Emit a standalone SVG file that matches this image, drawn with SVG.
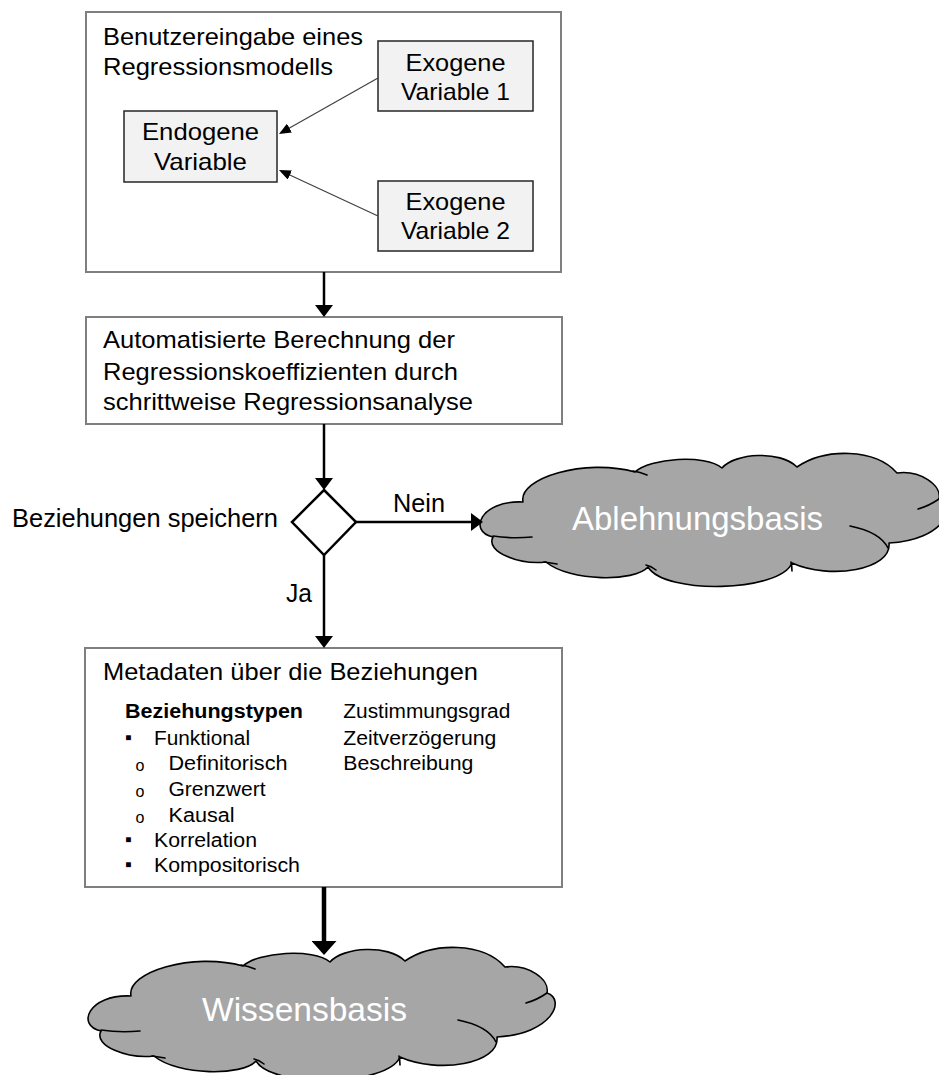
<svg xmlns="http://www.w3.org/2000/svg" xmlns:xlink="http://www.w3.org/1999/xlink" width="939" height="1075" viewBox="0 0 939 1075">
  <style>
    .box { fill: #ffffff; stroke: #7f7f7f; stroke-width: 2; }
    .var { fill: #f2f2f2; stroke: #262626; stroke-width: 1.5; }
    .t { font-family: "Liberation Sans", Arial, sans-serif; fill: #000000; }
    .m { font-size: 24px; }
    .lbl { font-size: 25.5px; }
    .s { font-size: 19.5px; }
    .o { font-size: 16px; }
    .b { font-weight: bold; }
    .cloud { fill: #a6a6a6; stroke: #000000; stroke-width: 1.6; stroke-linejoin: round; }
    .crease { fill: none; stroke: #000000; stroke-width: 1.6; stroke-linecap: round; }
    .ct { font-family: "Liberation Sans", Arial, sans-serif; fill: #ffffff; font-size: 33px; }
    .thin { fill: none; stroke: #404040; stroke-width: 1.2; }
    .flow { fill: none; stroke: #000000; stroke-width: 2.5; }
    .flowBig { fill: none; stroke: #000000; stroke-width: 4.5; }
    .diamond { fill: #ffffff; stroke: #000000; stroke-width: 2.5; stroke-linejoin: miter; }
  </style>
  <defs>
    <marker id="arrowThin" viewBox="0 0 12 10" refX="6" refY="5" markerWidth="12" markerHeight="10" markerUnits="userSpaceOnUse" orient="auto">
      <path d="M0,0 L12,5 L0,10 z" fill="#000000"/>
    </marker>
    <marker id="arrowMain" viewBox="0 0 12 18" refX="4" refY="9" markerWidth="12" markerHeight="18" markerUnits="userSpaceOnUse" orient="auto">
      <path d="M0,0 L12,9 L0,18 z" fill="#000000"/>
    </marker>
    <marker id="arrowBig" viewBox="0 0 14 25" refX="6" refY="12.5" markerWidth="14" markerHeight="25" markerUnits="userSpaceOnUse" orient="auto">
      <path d="M0,0 L14,12.5 L0,25 z" fill="#000000"/>
    </marker>
    <!-- cloud outline, origin at the left tip -->
    <g id="cloudShape">
      <path class="cloud" d="M43,-18 C38,-42 105,-62 155,-48 C170,-62 225,-66 242,-52 C255,-67 300,-70 317,-53 C345,-72 395,-72 417,-47 C440,-50 462,-35 459,-21 C478,-15 465,20 409,23 C412,50 350,60 312,43 C300,72 185,75 168,47 C155,62 90,62 66,42 C40,45 5,32 13,17 C-12,12 0,-20 43,-18 Z"/>
      <path class="crease" d="M13,16 Q32,19 52,17 M64,42 Q71,43 77,44 M166,45 Q171,46 176,50 M311,42 Q312,46 312,51 M370,6 Q400,12 408,28 M438,-11 Q449,-14 459,-21 M153,-49 Q160,-48 167,-45"/>
    </g>
  </defs>

  <!-- user input of a regression model -->
  <g id="node-input">
    <rect class="box" x="86" y="12" width="475" height="260"/>
    <text class="t m" x="103" y="45" textLength="260" lengthAdjust="spacingAndGlyphs">Benutzereingabe eines</text>
    <text class="t m" x="103" y="75" textLength="230" lengthAdjust="spacingAndGlyphs">Regressionsmodells</text>
  </g>
  <g id="node-endogen">
    <rect class="var" x="124" y="111" width="153" height="71"/>
    <text class="t m" x="200.5" y="140" text-anchor="middle" textLength="117" lengthAdjust="spacingAndGlyphs">Endogene</text>
    <text class="t m" x="200.5" y="170" text-anchor="middle" textLength="93" lengthAdjust="spacingAndGlyphs">Variable</text>
  </g>
  <g id="node-exogen1">
    <rect class="var" x="378" y="41" width="155" height="70"/>
    <text class="t m" x="455.5" y="70.5" text-anchor="middle" textLength="100" lengthAdjust="spacingAndGlyphs">Exogene</text>
    <text class="t m" x="455.5" y="100" text-anchor="middle" textLength="109" lengthAdjust="spacingAndGlyphs">Variable 1</text>
  </g>
  <g id="node-exogen2">
    <rect class="var" x="378" y="181" width="155" height="70"/>
    <text class="t m" x="455.5" y="209.5" text-anchor="middle" textLength="100" lengthAdjust="spacingAndGlyphs">Exogene</text>
    <text class="t m" x="455.5" y="239" text-anchor="middle" textLength="109" lengthAdjust="spacingAndGlyphs">Variable 2</text>
  </g>

  <!-- automated stepwise regression -->
  <g id="node-regression">
    <rect class="box" x="86" y="317" width="476" height="107"/>
    <text class="t m" x="103" y="348" textLength="352" lengthAdjust="spacingAndGlyphs">Automatisierte Berechnung der</text>
    <text class="t m" x="103" y="380" textLength="355" lengthAdjust="spacingAndGlyphs">Regressionskoeffizienten durch</text>
    <text class="t m" x="103" y="410" textLength="370" lengthAdjust="spacingAndGlyphs">schrittweise Regressionsanalyse</text>
  </g>

  <!-- decision -->
  <g id="node-decision">
    <polygon class="diamond" points="324,490 356,522 324,555 292,522"/>
    <text class="t lbl" x="12" y="527" textLength="266" lengthAdjust="spacingAndGlyphs">Beziehungen speichern</text>
  </g>

  <!-- rejection base -->
  <g id="node-reject">
    <use xlink:href="#cloudShape" href="#cloudShape" transform="translate(480,520)"/>
    <text class="ct" x="697.5" y="530" text-anchor="middle" textLength="251" lengthAdjust="spacingAndGlyphs">Ablehnungsbasis</text>
  </g>

  <!-- relationship metadata -->
  <g id="node-metadata">
    <rect class="box" x="85" y="648" width="477" height="239"/>
    <text class="t m" x="103" y="680" textLength="375" lengthAdjust="spacingAndGlyphs">Metadaten über die Beziehungen</text>
    <text class="t s b" x="125" y="718" textLength="178" lengthAdjust="spacingAndGlyphs">Beziehungstypen</text>
    <text class="t s" x="125" y="744">▪</text>
    <text class="t s" x="154" y="745" textLength="96" lengthAdjust="spacingAndGlyphs">Funktional</text>
    <text class="t o" x="135.5" y="771">o</text>
    <text class="t s" x="168.5" y="770" textLength="119" lengthAdjust="spacingAndGlyphs">Definitorisch</text>
    <text class="t o" x="135.5" y="796.5">o</text>
    <text class="t s" x="168.5" y="795.7" textLength="97" lengthAdjust="spacingAndGlyphs">Grenzwert</text>
    <text class="t o" x="135.5" y="822.5">o</text>
    <text class="t s" x="168.5" y="821.7" textLength="66" lengthAdjust="spacingAndGlyphs">Kausal</text>
    <text class="t s" x="125" y="846">▪</text>
    <text class="t s" x="154" y="846.7" textLength="103" lengthAdjust="spacingAndGlyphs">Korrelation</text>
    <text class="t s" x="125" y="871">▪</text>
    <text class="t s" x="154" y="871.7" textLength="146" lengthAdjust="spacingAndGlyphs">Kompositorisch</text>
    <text class="t s" x="343.3" y="718.3" textLength="167" lengthAdjust="spacingAndGlyphs">Zustimmungsgrad</text>
    <text class="t s" x="343.3" y="745" textLength="153" lengthAdjust="spacingAndGlyphs">Zeitverzögerung</text>
    <text class="t s" x="343.3" y="770" textLength="130" lengthAdjust="spacingAndGlyphs">Beschreibung</text>
  </g>

  <!-- knowledge base -->
  <g id="node-knowledge">
    <use xlink:href="#cloudShape" href="#cloudShape" transform="translate(88,1014)"/>
    <text class="ct" x="304.5" y="1021" text-anchor="middle" textLength="205" lengthAdjust="spacingAndGlyphs">Wissensbasis</text>
  </g>

  <!-- connectors -->
  <g id="connectors">
    <line class="thin" x1="378" y1="78" x2="284.2" y2="131" marker-end="url(#arrowThin)"/>
    <line class="thin" x1="378" y1="216" x2="284.4" y2="172.5" marker-end="url(#arrowThin)"/>
    <line class="flow" x1="324" y1="272" x2="324" y2="309" marker-end="url(#arrowMain)"/>
    <line class="flow" x1="324" y1="424" x2="324" y2="482" marker-end="url(#arrowMain)"/>
    <line class="flow" x1="356" y1="522" x2="475" y2="522" marker-end="url(#arrowMain)"/>
    <line class="flow" x1="324" y1="555" x2="324" y2="640" marker-end="url(#arrowMain)"/>
    <line class="flowBig" x1="324" y1="887" x2="324" y2="947" marker-end="url(#arrowBig)"/>
    <text class="t lbl" x="393" y="512" textLength="52" lengthAdjust="spacingAndGlyphs">Nein</text>
    <text class="t lbl" x="286" y="602" textLength="26" lengthAdjust="spacingAndGlyphs">Ja</text>
  </g>
</svg>
